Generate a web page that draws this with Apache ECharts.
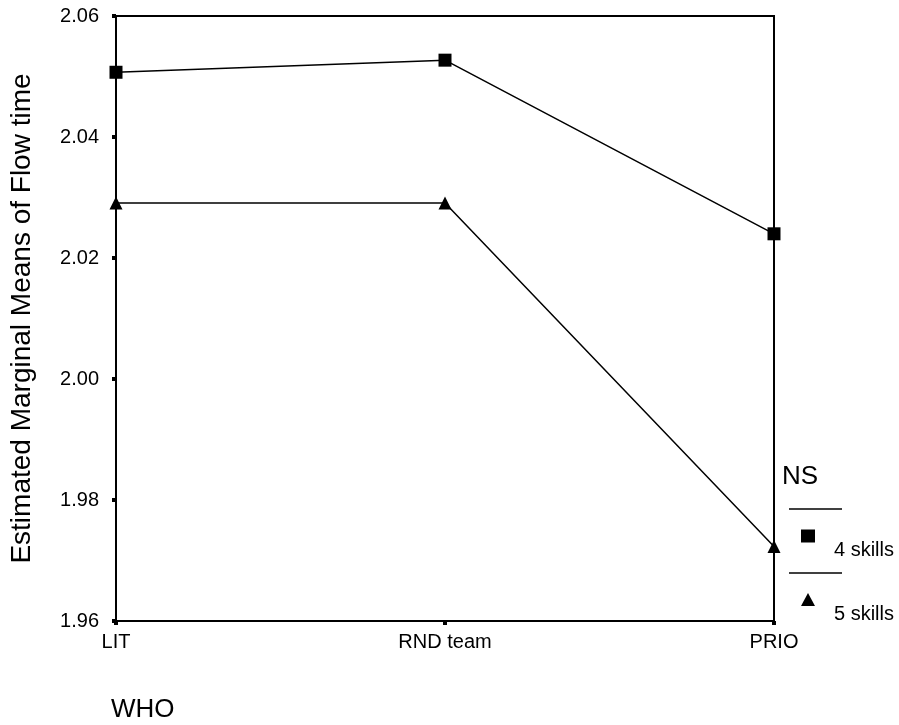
<!DOCTYPE html>
<html><head><meta charset="utf-8">
<script src="https://cdn.jsdelivr.net/npm/echarts@6/dist/echarts.min.js"></script>
<style>html,body{margin:0;padding:0;background:#fff}#c{width:899px;height:725px}</style>
</head><body><div id="c"></div>
<script>
var categories = ['LIT', 'RND team', 'PRIO'];
var skills4 = [2.0507, 2.0527, 2.0240];
var skills5 = [2.0291, 2.0291, 1.9723];
var seriesNames = ['4 skills', '5 skills'];
var yTicks = [1.96, 1.98, 2.00, 2.02, 2.04, 2.06];

var font = 'Liberation Sans, Arial, sans-serif';
var chart = echarts.init(document.getElementById('c'));
chart.setOption({
  animation: false,
  backgroundColor: '#fff',
  textStyle: {fontFamily: font},
  grid: {left: 113, right: 125, top: 16, bottom: 104, show: true, borderColor: '#000', borderWidth: 2, backgroundColor: 'transparent'},
  title: {text: 'WHO', left: 111, top: 697, padding: 0, textStyle: {fontFamily: font, fontSize: 26, fontWeight: 'normal', color: '#000'}},
  legend: {
    orient: 'vertical', left: 801, top: 521, padding: 0, itemWidth: 14, itemHeight: 13, itemGap: 24,
    data: [{name: seriesNames[0], icon: 'rect'}, {name: seriesNames[1], icon: 'triangle'}],
    formatter: function (name) { return '{g| }\n{t|' + name + '}'; },
    textStyle: {
      fontFamily: font, fontSize: 20, color: '#000',
      rich: {
        g: {fontSize: 10, lineHeight: 29},
        t: {fontFamily: font, fontSize: 20, lineHeight: 20, color: '#000', padding: [0, 0, 0, 14]}
      }
    }
  },
  graphic: [
    {type: 'text', left: 782, top: 464, style: {text: 'NS', fontFamily: font, fontSize: 26, fill: '#000'}},
    {type: 'line', shape: {x1: 789, y1: 509, x2: 842, y2: 509}, style: {stroke: '#000', lineWidth: 1.5}},
    {type: 'line', shape: {x1: 789, y1: 573, x2: 842, y2: 573}, style: {stroke: '#000', lineWidth: 1.5}}
  ],
  xAxis: {
    type: 'category', data: categories, boundaryGap: false,
    axisLine: {lineStyle: {color: '#000', width: 2}},
    axisTick: {length: 4, lineStyle: {color: '#000', width: 4}},
    axisLabel: {color: '#000', fontSize: 20, margin: 11, fontFamily: font},
    splitLine: {show: false}
  },
  yAxis: {
    type: 'value', min: 1.96, max: 2.06, interval: 0.02,
    name: 'Estimated Marginal Means of Flow time', nameLocation: 'middle', nameGap: 80,
    nameTextStyle: {fontSize: 28, color: '#000', fontFamily: font},
    axisLine: {show: true, lineStyle: {color: '#000', width: 2}},
    axisTick: {show: true, length: 4, lineStyle: {color: '#000', width: 4}},
    axisLabel: {color: '#000', fontSize: 20, margin: 17, fontFamily: font, formatter: function(v){return v.toFixed(2);}},
    splitLine: {show: false}
  },
  series: [
    {name: seriesNames[0], type: 'line', data: skills4, symbol: 'rect', symbolSize: 13,
     lineStyle: {color: '#000', width: 1.5}, itemStyle: {color: '#000'}},
    {name: seriesNames[1], type: 'line', data: skills5, symbol: 'triangle', symbolSize: 13,
     lineStyle: {color: '#000', width: 1.5}, itemStyle: {color: '#000'}}
  ]
});
</script></body></html>
